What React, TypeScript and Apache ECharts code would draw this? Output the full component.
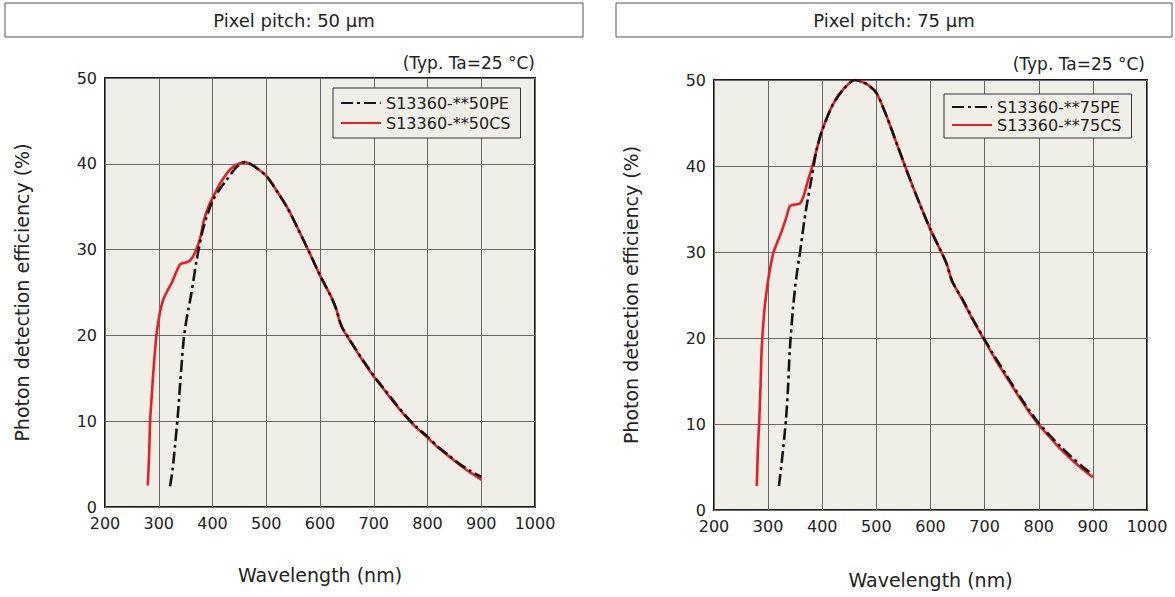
import React, { useEffect, useRef } from "react";
import * as echarts from "echarts";

// ---- Data ----
const titles = ["Pixel pitch: 50 μm", "Pixel pitch: 75 μm"];
const noteText = "(Typ. Ta=25 °C)";
const xAxisName = "Wavelength (nm)";
const yAxisName = "Photon detection efficiency (%)";
const seriesNames50 = ["S13360-**50PE", "S13360-**50CS"];
const seriesNames75 = ["S13360-**75PE", "S13360-**75CS"];

// 50 µm, PE
const pe50Wl = [321, 326, 330, 335, 340, 346, 350, 355, 361, 370, 380, 389, 401, 413, 426, 440, 450, 460, 470, 480, 500, 520, 540, 560, 580, 600, 620, 630, 640, 660, 680, 700, 720, 740, 760, 780, 800, 820, 840, 860, 880, 900];
const pe50Eff = [2.4, 4.5, 7.0, 10.3, 14.5, 19.3, 21.2, 23.0, 25.0, 28.6, 31.8, 33.8, 35.8, 37.0, 38.1, 39.3, 39.9, 40.2, 40.0, 39.6, 38.6, 36.8, 34.8, 32.3, 29.7, 27.0, 24.6, 23.1, 21.1, 19.0, 17.1, 15.3, 13.7, 12.1, 10.6, 9.3, 8.2, 7.0, 6.0, 5.0, 4.2, 3.5];
// 50 µm, CS
const cs50Wl = [279.5, 282, 284, 287, 290, 293, 296, 302, 308, 316, 324, 332, 340, 350, 358, 367, 377, 384, 395, 405, 414, 432, 445, 460, 470, 480, 500, 520, 540, 560, 580, 600, 620, 630, 640, 660, 680, 700, 720, 740, 760, 780, 800, 820, 840, 860, 880, 900];
const cs50Eff = [2.5, 6.0, 10.1, 13.0, 15.8, 18.2, 20.2, 22.6, 24.1, 25.2, 26.1, 27.3, 28.3, 28.5, 28.7, 29.6, 31.3, 33.4, 35.4, 36.6, 37.7, 39.3, 39.9, 40.2, 40.0, 39.6, 38.6, 36.8, 34.8, 32.3, 29.7, 27.0, 24.6, 23.1, 21.0, 19.0, 17.0, 15.2, 13.6, 12.0, 10.5, 9.2, 8.1, 6.9, 5.9, 4.9, 4.0, 3.2];

// 75 µm, PE
const pe75Wl = [320, 325, 330, 333, 337, 340, 346, 352, 359, 365, 371, 380, 390, 400, 420, 440, 460, 480, 500, 520, 540, 560, 580, 600, 620, 630, 640, 660, 680, 700, 720, 740, 760, 780, 800, 820, 840, 860, 880, 900];
const pe75Eff = [2.8, 5.5, 8.5, 10.5, 14.5, 18.6, 23.5, 27.0, 30.0, 32.8, 35.3, 38.5, 42.0, 44.2, 47.2, 49.0, 50.0, 49.6, 48.5, 45.6, 42.2, 38.8, 35.6, 32.6, 30.0, 28.6, 26.6, 24.4, 22.0, 19.8, 17.7, 15.7, 13.7, 11.8, 10.1, 8.7, 7.4, 6.2, 5.1, 4.1];
// 75 µm, CS
const cs75Wl = [279, 281, 283.7, 286, 288, 291, 294, 299, 304, 310, 318, 325, 333, 340, 348, 358, 365, 374, 380, 390, 400, 420, 440, 460, 480, 500, 520, 540, 560, 580, 600, 620, 630, 640, 660, 680, 700, 720, 740, 760, 780, 800, 820, 840, 860, 880, 900];
const cs75Eff = [2.8, 7.0, 10.5, 14.5, 18.6, 21.6, 23.8, 26.3, 28.2, 30.0, 31.3, 32.4, 33.9, 35.3, 35.5, 35.6, 36.4, 38.4, 39.6, 42.0, 44.2, 47.2, 49.0, 50.0, 49.6, 48.5, 45.6, 42.2, 38.8, 35.6, 32.6, 30.0, 28.6, 26.6, 24.3, 21.9, 19.7, 17.5, 15.5, 13.5, 11.6, 9.9, 8.5, 7.1, 5.9, 4.8, 3.8];

const xMin = 200, xMax = 1000, xStep = 100;
const yMin = 0, yMax = 50, yStep = 10;

const FONT = "DejaVu Sans";
const RED = "#ec1c24";
const BLACK = "#141414";
const BG = "#f0efe7";

const zip = (xs: number[], ys: number[]) => xs.map((x, i) => [x, ys[i]]);

export default function App() {
  const ref = useRef<HTMLDivElement>(null);
  useEffect(() => {
    if (!ref.current) return;
    const chart = echarts.init(ref.current, null, { renderer: "svg" });

    const grids = [
      { left: 105, top: 78, width: 430, height: 429 },
      { left: 714, top: 80, width: 433, height: 430 },
    ];

    const axisText = { color: "#222", fontSize: 16, fontFamily: FONT };

    const xAxes = grids.map((_, i) => ({
      gridIndex: i,
      type: "value",
      min: xMin,
      max: xMax,
      interval: xStep,
      name: xAxisName,
      nameLocation: "middle",
      nameGap: i === 0 ? 58 : 60,
      nameTextStyle: { color: "#222", fontSize: 19, fontFamily: FONT },
      axisLine: { show: false },
      axisTick: { show: false },
      axisLabel: { ...axisText, margin: 9, lineHeight: 15, formatter: (v: number) => String(v) },
      splitLine: { show: true, lineStyle: { color: "#6a6a6a", width: 1 } },
    }));
    const yAxes = grids.map((_, i) => ({
      gridIndex: i,
      type: "value",
      min: yMin,
      max: yMax,
      interval: yStep,
      name: yAxisName,
      nameLocation: "middle",
      nameGap: 74,
      nameTextStyle: { color: "#222", fontSize: 19, fontFamily: FONT },
      axisLine: { show: false },
      axisTick: { show: false },
      axisLabel: { ...axisText, margin: 8, lineHeight: 14, formatter: (v: number) => String(v) },
      splitLine: { show: true, lineStyle: { color: "#6a6a6a", width: 1 } },
    }));

    const peStyle = { color: BLACK, width: 2.6, type: [12, 4, 3, 4] as any };
    const csStyle = { color: RED, width: 2.6 };

    const mk = (name: string, data: number[][], idx: number, style: any, z: number) => ({
      name,
      type: "line",
      xAxisIndex: idx,
      yAxisIndex: idx,
      data,
      smooth: 0.25,
      showSymbol: false,
      symbol: "none",
      color: style.color,
      lineStyle: style,
      z,
    });

    const legendCommon = {
      orient: "vertical",
      itemWidth: 40,
      itemHeight: 14,
      backgroundColor: BG,
      borderColor: "#333",
      borderWidth: 1,
      borderRadius: 0,
      itemStyle: { opacity: 0, color: "transparent", borderWidth: 0 },
      textStyle: { color: "#222", fontSize: 16, fontFamily: FONT },
    };

    const titleBox = (x: number, w: number, text: string) => ({
      type: "group",
      children: [
        {
          type: "rect",
          shape: { x, y: 3, width: w, height: 34 },
          style: { fill: "#fff", stroke: "#555", lineWidth: 1 },
        },
        {
          type: "text",
          x: x + w / 2,
          y: 20,
          style: { text, fill: "#222", font: `18px "${FONT}"`, textAlign: "center", textVerticalAlign: "middle" },
        },
      ],
    });

    const option = {
      animation: false,
      grid: grids.map((g) => ({ ...g, show: true, backgroundColor: BG, borderColor: "#1a1a1a", borderWidth: 2 })),
      xAxis: xAxes,
      yAxis: yAxes,
      legend: [
        { ...legendCommon, data: seriesNames50, left: 333, top: 88, padding: [7, 10, 7, 7], itemGap: 4 },
        { ...legendCommon, data: seriesNames75, left: 944, top: 94, padding: [5, 10, 5, 7], itemGap: 2 },
      ],
      graphic: [
        titleBox(5, 578, titles[0]),
        titleBox(616, 556, titles[1]),
        {
          type: "text",
          x: 535,
          y: 63,
          style: { text: noteText, fill: "#222", font: `17px "${FONT}"`, textAlign: "right", textVerticalAlign: "middle" },
        },
        {
          type: "text",
          x: 1145,
          y: 64,
          style: { text: noteText, fill: "#222", font: `17px "${FONT}"`, textAlign: "right", textVerticalAlign: "middle" },
        },
      ],
      series: [
        mk(seriesNames50[1], zip(cs50Wl, cs50Eff), 0, csStyle, 2),
        mk(seriesNames50[0], zip(pe50Wl, pe50Eff), 0, peStyle, 3),
        mk(seriesNames75[1], zip(cs75Wl, cs75Eff), 1, csStyle, 2),
        mk(seriesNames75[0], zip(pe75Wl, pe75Eff), 1, peStyle, 3),
      ],
    };

    chart.setOption(option as any);
    return () => chart.dispose();
  }, []);

  return (
    <div
      ref={ref}
      style={{ position: "absolute", left: 0, top: 0, width: 1175, height: 597, background: "#fff" }}
    />
  );
}
